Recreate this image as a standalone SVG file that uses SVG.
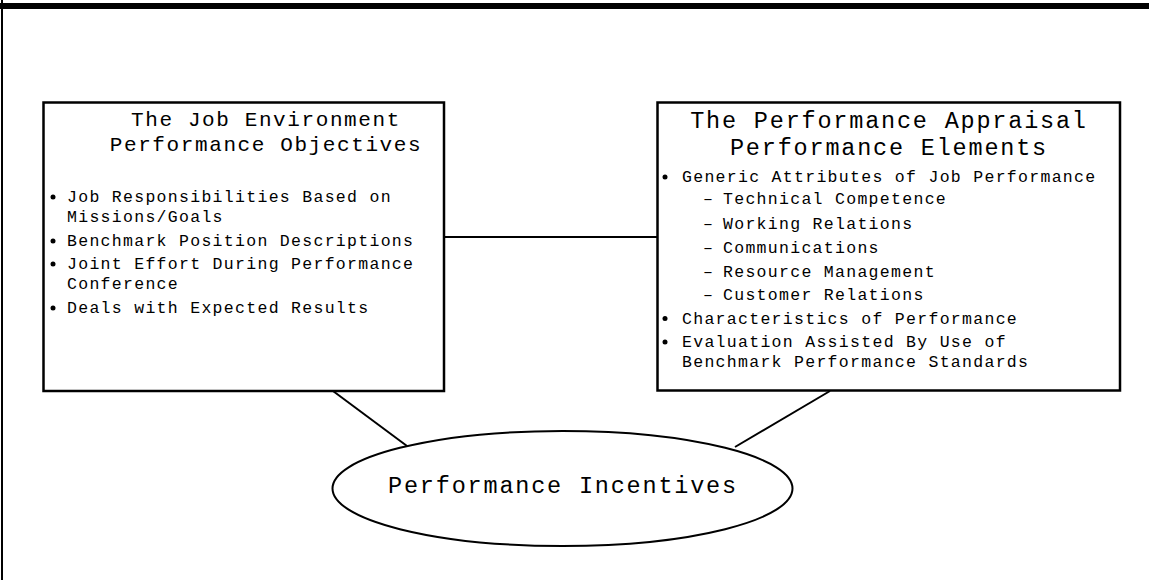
<svg xmlns="http://www.w3.org/2000/svg" width="1149" height="580" viewBox="0 0 1149 580">
  <style>
    .frame { fill: #000; }
    .box { fill: #fff; stroke: #000; stroke-width: 2.5; }
    .oval { fill: #fff; stroke: #000; stroke-width: 2; }
    .link { stroke: #000; stroke-width: 2; fill: none; }
    text { font-family: "Liberation Mono", "Courier New", monospace; fill: #000; }
    .ttl-l { font-size: 21px; letter-spacing: 1.6px; text-anchor: middle; }
    .ttl-r { font-size: 23.5px; letter-spacing: 1.8px; text-anchor: middle; }
    .item { font-size: 16.5px; letter-spacing: 1.3px; }
    .dot { fill: #000; }
  </style>

  <rect width="1149" height="580" fill="#fff"/>
  <!-- page frame: heavy top rule and left rule -->
  <rect class="frame" x="0" y="3" width="1149" height="6"/>
  <rect class="frame" x="1" y="0" width="2" height="580"/>

  <!-- connectors -->
  <g id="connectors">
    <line class="link" x1="444" y1="237" x2="657" y2="237"/>
    <line class="link" x1="333" y1="391" x2="407" y2="446"/>
    <line class="link" x1="830" y1="391" x2="735" y2="447"/>
  </g>

  <!-- job environment box -->
  <g id="job-environment">
    <rect class="box" x="43.5" y="102.5" width="400.5" height="288.5"/>
    <text class="ttl-l" x="266" y="126">The Job Environment</text>
    <text class="ttl-l" x="266" y="151">Performance Objectives</text>
    <circle class="dot" cx="53" cy="197" r="2.5"/>
    <text class="item" x="67" y="202">Job Responsibilities Based on</text>
    <text class="item" x="67" y="222">Missions/Goals</text>
    <circle class="dot" cx="53" cy="241" r="2.5"/>
    <text class="item" x="67" y="246">Benchmark Position Descriptions</text>
    <circle class="dot" cx="53" cy="264" r="2.5"/>
    <text class="item" x="67" y="269">Joint Effort During Performance</text>
    <text class="item" x="67" y="289">Conference</text>
    <circle class="dot" cx="53" cy="308" r="2.5"/>
    <text class="item" x="67" y="313">Deals with Expected Results</text>
  </g>

  <!-- performance appraisal box -->
  <g id="performance-appraisal">
    <rect class="box" x="657.5" y="102.5" width="462.5" height="288"/>
    <text class="ttl-r" x="889" y="128">The Performance Appraisal</text>
    <text class="ttl-r" x="889" y="155">Performance Elements</text>
    <circle class="dot" cx="665" cy="177" r="2.5"/>
    <text class="item" x="682" y="182">Generic Attributes of Job Performance</text>
    <text class="item" x="703" y="204">–</text>
    <text class="item" x="723" y="204">Technical Competence</text>
    <text class="item" x="703" y="228.5">–</text>
    <text class="item" x="723" y="228.5">Working Relations</text>
    <text class="item" x="703" y="253">–</text>
    <text class="item" x="723" y="253">Communications</text>
    <text class="item" x="703" y="276.5">–</text>
    <text class="item" x="723" y="276.5">Resource Management</text>
    <text class="item" x="703" y="300">–</text>
    <text class="item" x="723" y="300">Customer Relations</text>
    <circle class="dot" cx="665" cy="318.5" r="2.5"/>
    <text class="item" x="682" y="323.5">Characteristics of Performance</text>
    <circle class="dot" cx="665" cy="342" r="2.5"/>
    <text class="item" x="682" y="347">Evaluation Assisted By Use of</text>
    <text class="item" x="682" y="367">Benchmark Performance Standards</text>
  </g>

  <!-- incentives ellipse -->
  <g id="performance-incentives">
    <ellipse class="oval" cx="562.5" cy="488.5" rx="230" ry="57.5"/>
    <text class="ttl-r" x="563" y="493">Performance Incentives</text>
  </g>
</svg>
